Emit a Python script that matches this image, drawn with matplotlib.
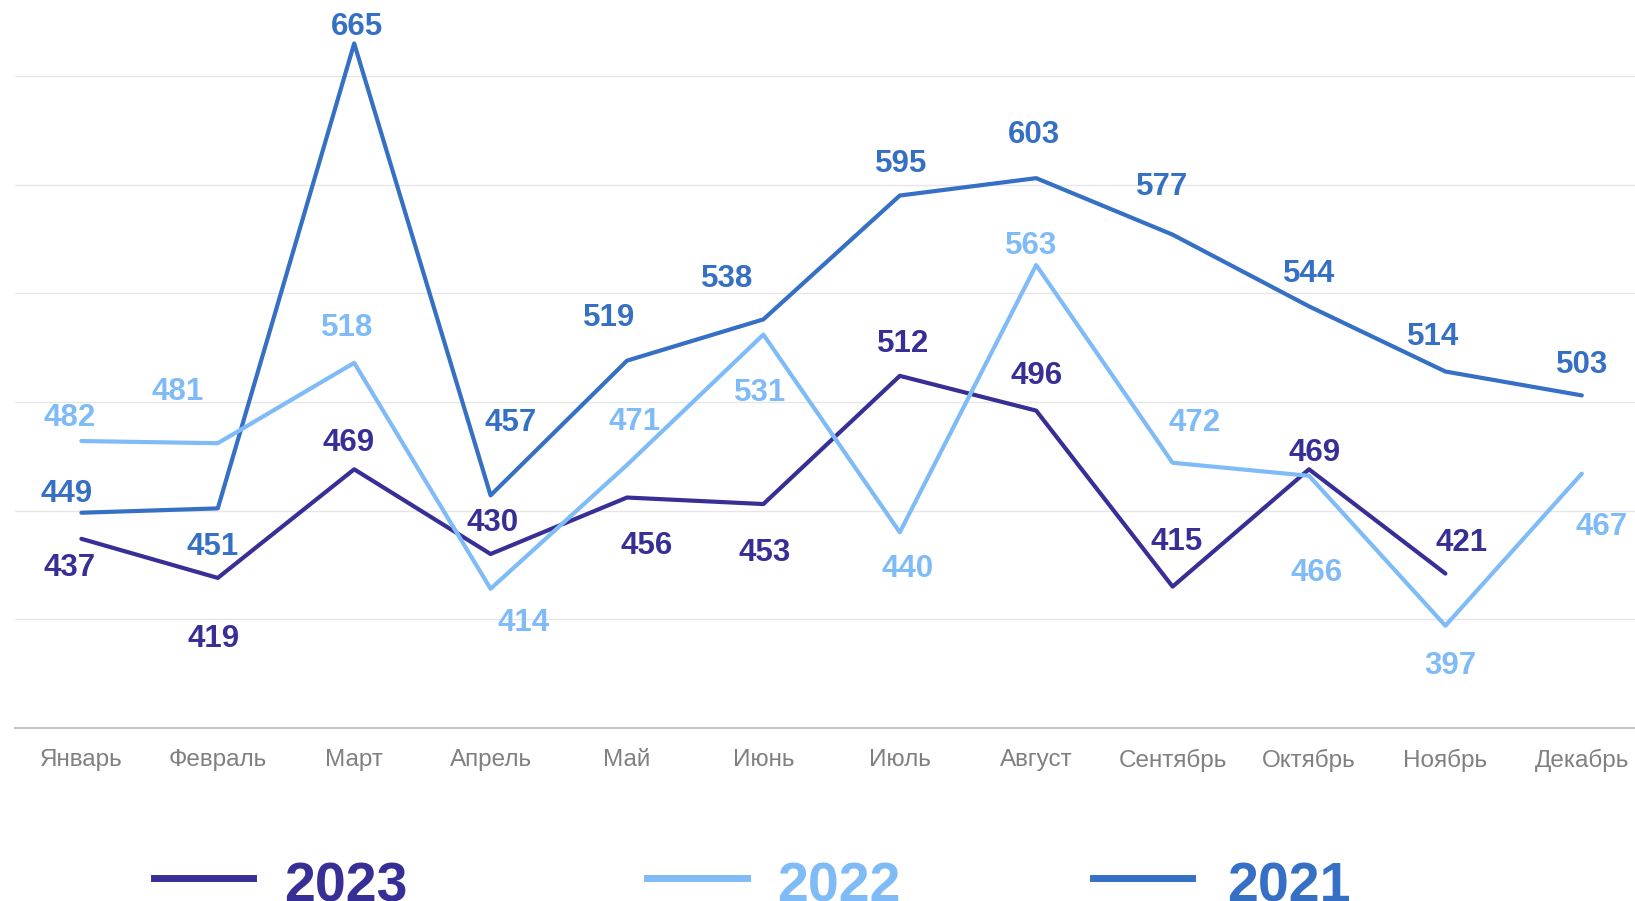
import numpy as np
import matplotlib
matplotlib.use("Agg")
import matplotlib.pyplot as plt
from matplotlib.lines import Line2D

months = ["Январь", "Февраль", "Март", "Апрель", "Май", "Июнь",
          "Июль", "Август", "Сентябрь", "Октябрь", "Ноябрь", "Декабрь"]

v2023 = [437, 419, 469, 430, 456, 453, 512, 496, 415, 469, 421]
v2022 = [482, 481, 518, 414, 471, 531, 440, 563, 472, 466, 397, 467]
v2021 = [449, 451, 665, 457, 519, 538, 595, 603, 577, 544, 514, 503]

# label offsets in pixels (dx, dy), dy up positive
off2023 = [(-12, -25), (-4, -57), (-6, 30), (2, 35), (20, -44), (1, -45),
           (3, 36), (0, 39), (4, 49), (6, 20), (16, 35)]
off2022 = [(-12, 27), (-40, 55), (-7, 39), (33, -30), (8, 47), (-3, -54),
           (8, -33), (-5, 23), (22, 44), (8, -93), (5, -36), (20, -49)]
off2021 = [(-15, 23), (-5, -35), (3, 20), (20, 76), (-18, 47), (-36, 44),
           (1, 36), (-2, 47), (-10, 52), (0, 36), (-12, 39), (0, 34)]

c2023 = "#372F95"
c2022 = "#7FBBF7"
c2021 = "#3570C4"

fig = plt.figure(figsize=(16.35, 9.01), dpi=100)
ax = fig.add_axes([0.0089, 0.1922, 0.9911, 0.8078])

series = [
    ("2021", v2021, c2021, off2021),
    ("2023", v2023, c2023, off2023),
    ("2022", v2022, c2022, off2022),
]
for name, vals, col, offs in series:
    x = np.arange(len(vals))
    ax.plot(x, vals, color=col, lw=3, solid_joinstyle="round",
            solid_capstyle="round", zorder=3)
    for xi, v, (dx, dy) in zip(x, vals, offs):
        # small shift down so the digits sit like in the original
        ax.annotate(str(v), (xi, v), xytext=(dx, dy - 4), textcoords="offset pixels",
                    ha="center", va="center", fontsize=22.5, fontweight="bold",
                    color=col, family="Liberation Sans", zorder=4)

ax.set_xlim(-0.49, 11.39)
ax.set_ylim(350, 685)
ax.set_yticks([400, 450, 500, 550, 600, 650])
ax.yaxis.grid(True, color="#e6e6e6", lw=1)
ax.set_axisbelow(True)
ax.tick_params(axis="y", left=False, labelleft=False)
ax.set_xticks(np.arange(12))
ax.set_xticklabels(months, fontsize=17.5, color="#808080", family="Liberation Sans")
ax.tick_params(axis="x", length=0, pad=15)
for s in ["top", "right", "left"]:
    ax.spines[s].set_visible(False)
ax.spines["bottom"].set_color("#c4c4c4")
ax.spines["bottom"].set_linewidth(1.5)

# legend drawn by hand
leg = [("2023", c2023, 0.0944, 0.155, 0.1735),
       ("2022", c2022, 0.396, 0.4566, 0.4751),
       ("2021", c2021, 0.6683, 0.7289, 0.7506)]
for name, col, x0, x1, tx in leg:
    fig.add_artist(Line2D([x0, x1], [0.0255, 0.0255], color=col, lw=5,
                          transform=fig.transFigure))
    fig.text(tx, 0.0, name, color=col, fontsize=40, fontweight="bold",
             family="Liberation Sans", ha="left", va="baseline")

fig.savefig("out.png", dpi=100)
